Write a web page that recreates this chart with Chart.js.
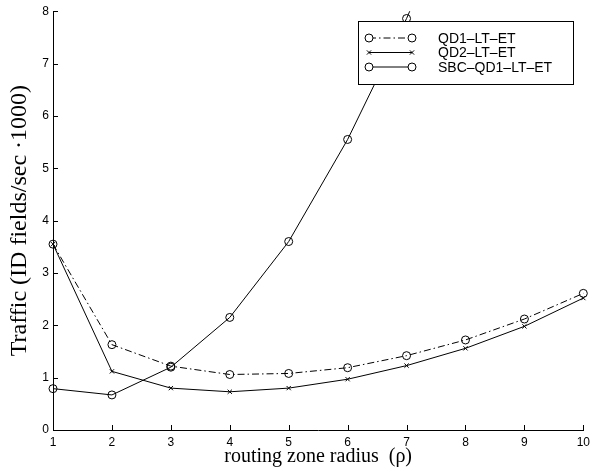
<!DOCTYPE html>
<html lang="en">
<head>
    <meta charset="UTF-8">
    <title>Traffic vs routing zone radius</title>
    <style>
        body { margin: 0; background: #fff; }
        canvas { display: block; }
    </style>
    <script src="https://cdn.jsdelivr.net/npm/chart.js@4.4.1/dist/chart.umd.min.js"></script>
</head>
<body>
    <canvas id="trafficChart" width="595" height="471"></canvas>

    <script>
        // values
        const rho = [1, 2, 3, 4, 5, 6, 7, 8, 9, 10];
        const qd1 = [3.55, 1.63, 1.22, 1.06, 1.08, 1.19, 1.42, 1.72, 2.12, 2.61];
        const qd2 = [3.55, 1.12, 0.80, 0.73, 0.80, 0.97, 1.23, 1.56, 1.98, 2.52];
        const sbc = [0.79, 0.67, 1.20, 2.15, 3.60, 5.55, 7.86, 10.45, null, null];
        const yTicks = [0, 1, 2, 3, 4, 5, 6, 7, 8];
        const seriesNames = ['QD1\u2013LT\u2013ET', 'QD2\u2013LT\u2013ET', 'SBC\u2013QD1\u2013LT\u2013ET'];

        const tickFont = { family: 'Liberation Sans, Arial, sans-serif', size: 12 };
        const xTitleFont = { family: 'Liberation Serif, Times New Roman, serif', size: 20 };
        const yTitleFont = { family: 'Liberation Serif, Times New Roman, serif', size: 24 };

        // MATLAB style: tick marks drawn inward from the axis lines
        const inwardTicks = {
            id: 'inwardTicks',
            afterDraw(chart) {
                const ctx = chart.ctx;
                const x = chart.scales.x, y = chart.scales.y;
                const area = chart.chartArea;
                ctx.save();
                ctx.strokeStyle = '#000';
                ctx.lineWidth = 1;
                ctx.beginPath();
                rho.forEach(v => {
                    const px = Math.round(x.getPixelForValue(v)) + 0.5;
                    ctx.moveTo(px, area.bottom);
                    ctx.lineTo(px, area.bottom - 5);
                });
                yTicks.forEach(v => {
                    const py = Math.round(y.getPixelForValue(v)) + 0.5;
                    ctx.moveTo(area.left, py);
                    ctx.lineTo(area.left + 5, py);
                });
                ctx.stroke();
                ctx.restore();
            }
        };

        // boxed legend inside the plot, top right
        const boxLegend = {
            id: 'boxLegend',
            afterDraw(chart) {
                const ctx = chart.ctx;
                const bx = 358.5, by = 21.5, bw = 215, bh = 63;
                ctx.save();
                ctx.fillStyle = '#fff';
                ctx.strokeStyle = '#000';
                ctx.lineWidth = 1;
                ctx.fillRect(bx, by, bw, bh);
                ctx.strokeRect(bx, by, bw, bh);
                ctx.font = '14px Liberation Sans, Arial, sans-serif';
                ctx.textBaseline = 'middle';
                ctx.textAlign = 'left';
                chart.data.datasets.forEach((ds, i) => {
                    const ry = 38 + i * 14.5;
                    const x0 = 369, x1 = 412;
                    ctx.strokeStyle = '#000';
                    ctx.beginPath();
                    ctx.setLineDash(ds.borderDash || []);
                    ctx.moveTo(x0, ry);
                    ctx.lineTo(x1, ry);
                    ctx.stroke();
                    ctx.setLineDash([]);
                    [x0, x1].forEach(px => {
                        ctx.fillStyle = '#fff';
                        Chart.helpers.drawPoint(ctx, {
                            pointStyle: ds.pointStyle,
                            radius: ds.pointRadius,
                            borderWidth: 1
                        }, px, ry);
                    });
                    ctx.fillStyle = '#000';
                    ctx.fillText(seriesNames[i], 438, ry + 1);
                });
                ctx.restore();
            }
        };

        const common = {
            borderColor: '#000',
            backgroundColor: 'rgba(0,0,0,0)',
            pointBorderColor: '#000',
            pointBackgroundColor: 'rgba(0,0,0,0)',
            borderWidth: 1,
            pointBorderWidth: 1,
            tension: 0,
            spanGaps: false,
            clip: { left: 8, right: 8, top: 0, bottom: 8 }
        };

        new Chart(document.getElementById('trafficChart'), {
            type: 'line',
            data: {
                labels: rho,
                datasets: [
                    Object.assign({}, common, {
                        label: seriesNames[0],
                        data: rho.map((r, i) => ({ x: r, y: qd1[i] })),
                        borderDash: [7, 3, 1.5, 3],
                        pointStyle: 'circle',
                        pointRadius: 4
                    }),
                    Object.assign({}, common, {
                        label: seriesNames[1],
                        data: rho.map((r, i) => ({ x: r, y: qd2[i] })),
                        pointStyle: 'crossRot',
                        pointRadius: 3
                    }),
                    Object.assign({}, common, {
                        label: seriesNames[2],
                        data: rho.map((r, i) => ({ x: r, y: sbc[i] })),
                        pointStyle: 'circle',
                        pointRadius: 4
                    })
                ]
            },
            options: {
                responsive: false,
                animation: false,
                layout: { padding: { left: 0, right: 7, top: 10, bottom: 0 } },
                scales: {
                    x: {
                        type: 'linear',
                        min: 1,
                        max: 10,
                        afterBuildTicks: s => { s.ticks = rho.map(v => ({ value: v })); },
                        afterFit: s => { s.height = 41; },
                        grid: { display: false, drawTicks: false },
                        border: { display: true, color: '#000', width: 1 },
                        ticks: { color: '#000', font: tickFont, padding: 5, maxRotation: 0 },
                        title: {
                            display: true,
                            text: 'routing zone radius  (\u03c1)',
                            color: '#000',
                            font: xTitleFont,
                            padding: { top: 0, bottom: 2 }
                        }
                    },
                    y: {
                        type: 'linear',
                        min: 0,
                        max: 8,
                        afterBuildTicks: s => { s.ticks = yTicks.map(v => ({ value: v })); },
                        afterFit: s => { s.width = 53; },
                        grid: { display: false, drawTicks: false },
                        border: { display: true, color: '#000', width: 1 },
                        ticks: { color: '#000', font: tickFont, padding: 4 },
                        title: {
                            display: true,
                            text: 'Traffic (ID fields/sec \u00b71000)',
                            color: '#000',
                            font: yTitleFont,
                            padding: { top: 5, bottom: 0 }
                        }
                    }
                },
                plugins: {
                    legend: { display: false },
                    tooltip: { enabled: false }
                }
            },
            plugins: [inwardTicks, boxLegend]
        });
    </script>
</body>
</html>
